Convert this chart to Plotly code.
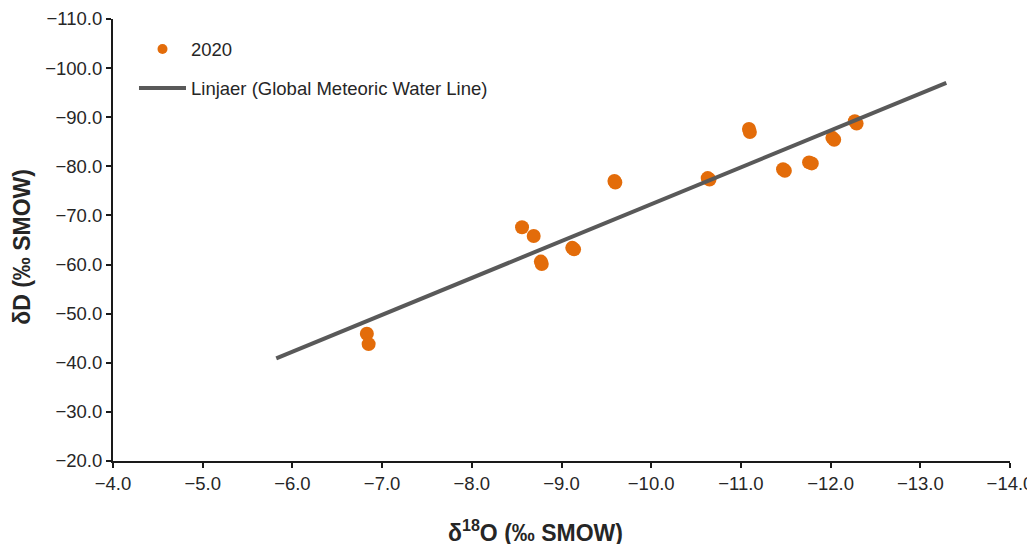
import plotly.graph_objects as go

# Sample isotopic values (2020)
d18O = [-6.83, -6.85, -8.56, -8.69, -8.77, -8.78, -9.12, -9.14, -9.59, -9.60,
        -10.63, -10.65, -11.09, -11.10, -11.47, -11.49, -11.76, -11.79,
        -12.02, -12.04, -12.27, -12.29]
dD = [-45.9, -43.8, -67.6, -65.8, -60.6, -60.1, -63.4, -63.1, -77.0, -76.7,
      -77.6, -77.3, -87.6, -87.0, -79.4, -79.1, -80.8, -80.6,
      -85.8, -85.4, -89.2, -88.7]

# Meteoric water line endpoints
line_x = [-5.82, -13.29]
line_y = [-40.9, -97.0]

x_ticks = [-4.0, -5.0, -6.0, -7.0, -8.0, -9.0, -10.0, -11.0, -12.0, -13.0, -14.0]
y_ticks = [-20.0, -30.0, -40.0, -50.0, -60.0, -70.0, -80.0, -90.0, -100.0, -110.0]

FONT = "Liberation Sans, Arial, sans-serif"
TXT = "#262626"
ORANGE = "#E36C0A"

fig = go.Figure()
fig.add_trace(go.Scatter(
    x=d18O, y=dD, mode="markers", name="2020", showlegend=False,
    marker=dict(color=ORANGE, size=14, line=dict(width=0)),
))
# legend entry for the sample series (smaller legend symbol as in the original)
fig.add_trace(go.Scatter(
    x=[None], y=[None], mode="markers", name="2020", legendgroup="a",
    marker=dict(color=ORANGE, size=10, line=dict(width=0)),
))
fig.add_trace(go.Scatter(
    x=line_x, y=line_y, mode="lines", name="Linjaer (Global Meteoric Water Line)",
    legendgroup="b", line=dict(color="#595959", width=4),
))

axis_common = dict(
    showgrid=False, zeroline=False, showline=True, linecolor="#1a1a1a", linewidth=2,
    ticks="outside", ticklen=5, tickwidth=1.5, tickcolor="#1a1a1a", automargin=False,
    tickfont=dict(family=FONT, size=18.5, color=TXT), tickformat=".1f",
)

# page has an 8px body margin, so the figure margins compensate for it
fig.update_layout(
    width=1035, height=544,
    margin=dict(l=105, r=33, t=11, b=91, autoexpand=False),
    paper_bgcolor="white", plot_bgcolor="white",
    font=dict(family=FONT, color=TXT),
    xaxis=dict(range=[-4, -14], tickvals=x_ticks, **axis_common),
    yaxis=dict(range=[-20, -110], tickvals=y_ticks, **axis_common),
    showlegend=True,
    legend=dict(
        x=0.0234, y=0.974, xanchor="left", yanchor="top", itemwidth=47,
        bgcolor="rgba(0,0,0,0)", font=dict(family=FONT, size=18.5, color=TXT),
        tracegroupgap=12, traceorder="grouped",
    ),
    annotations=[
        dict(text="δ<sup>18</sup>O (‰ SMOW)", xref="paper", yref="paper",
             x=(535 - 113) / 897, y=-0.158, xanchor="center", yanchor="middle", showarrow=False,
             font=dict(family=FONT, size=23, color=TXT, weight="bold")),
        dict(text="δD (‰ SMOW)", xref="paper", yref="paper",
             x=(21.7 - 113) / 897, y=0.484, xanchor="center", yanchor="middle", showarrow=False,
             textangle=-90,
             font=dict(family=FONT, size=23, color=TXT, weight="bold")),
    ],
)

fig.write_html("out.html")
